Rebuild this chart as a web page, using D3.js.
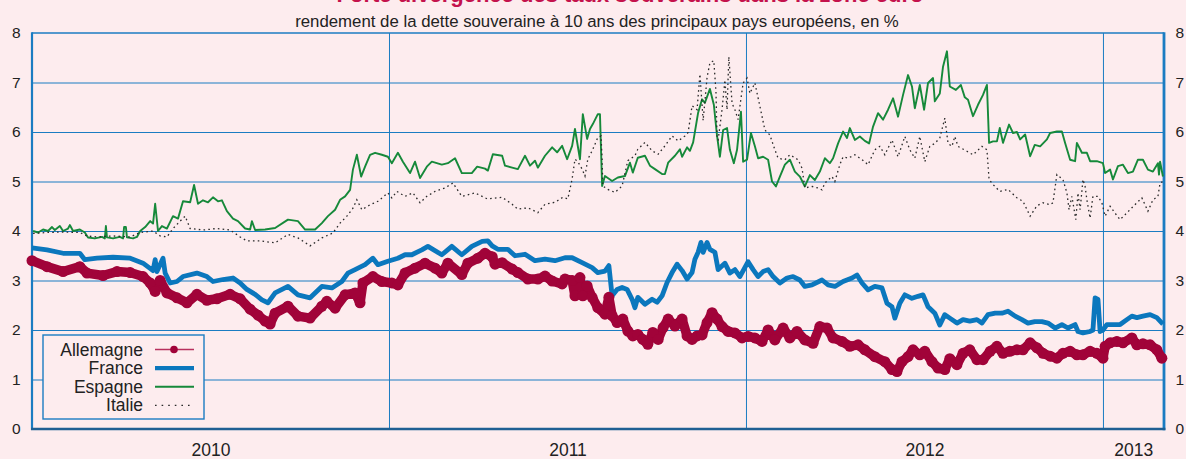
<!DOCTYPE html>
<html>
<head>
<meta charset="utf-8">
<script src="https://cdn.jsdelivr.net/npm/d3@7"></script>
<style>
html, body { margin: 0; padding: 0; background: #fdecee; }
svg { display: block; font-family: "Liberation Sans", Arial, sans-serif; }
</style>
</head>
<body>
<div id="chart"></div>
<script>
// rendements à 10 ans, en % -- [année décimale, valeur]
const allemagne = [
  [2010.000,3.40],[2010.042,3.28],[2010.087,3.18],[2010.134,3.28],[2010.154,3.15],[2010.199,3.10],[2010.238,3.18],[2010.275,3.16],[2010.311,3.08],[2010.331,2.95],[2010.345,2.78],[2010.359,3.00],[2010.378,2.75],[2010.406,2.65],[2010.434,2.55],[2010.462,2.72],[2010.490,2.60],[2010.518,2.63],[2010.555,2.72],[2010.583,2.63],[2010.611,2.42],[2010.633,2.30],[2010.653,2.18],[2010.667,2.12],[2010.681,2.34],[2010.717,2.48],[2010.745,2.28],[2010.779,2.24],[2010.812,2.48],[2010.826,2.58],[2010.849,2.44],[2010.877,2.71],[2010.905,2.75],[2010.919,2.55],[2010.927,2.95],[2010.955,3.08],[2010.980,2.98],
  [2011.008,2.95],[2011.025,2.91],[2011.045,3.15],[2011.073,3.25],[2011.101,3.35],[2011.129,3.25],[2011.148,3.15],[2011.165,3.35],[2011.204,3.12],[2011.221,3.35],[2011.249,3.45],[2011.269,3.55],[2011.289,3.48],[2011.297,3.33],[2011.317,3.36],[2011.345,3.23],[2011.361,3.16],[2011.389,3.03],[2011.417,3.03],[2011.437,3.09],[2011.457,2.99],[2011.485,2.93],[2011.493,3.03],[2011.513,3.00],[2011.521,2.69],[2011.535,3.06],[2011.543,2.69],[2011.555,2.89],[2011.569,2.66],[2011.585,2.45],[2011.605,2.32],[2011.616,2.66],[2011.625,2.29],[2011.639,2.15],[2011.655,2.22],[2011.669,1.98],[2011.683,1.88],[2011.697,1.91],[2011.711,1.81],[2011.725,1.71],[2011.739,1.95],[2011.754,1.81],[2011.768,2.05],[2011.782,2.22],[2011.801,2.08],[2011.821,2.22],[2011.835,1.88],[2011.849,1.81],[2011.863,1.88],[2011.877,1.90],[2011.891,2.15],[2011.905,2.35],[2011.919,2.22],[2011.933,2.07],[2011.950,1.97],[2011.969,1.94],[2011.989,1.84],
  [2012.006,1.87],[2012.025,1.84],[2012.045,1.77],[2012.062,2.00],[2012.081,1.80],[2012.104,2.04],[2012.123,1.84],[2012.143,1.97],[2012.165,1.80],[2012.188,1.73],[2012.207,2.07],[2012.227,2.04],[2012.244,1.84],[2012.269,1.77],[2012.291,1.67],[2012.314,1.70],[2012.333,1.60],[2012.361,1.46],[2012.389,1.36],[2012.409,1.20],[2012.423,1.16],[2012.437,1.36],[2012.454,1.46],[2012.468,1.60],[2012.487,1.50],[2012.501,1.57],[2012.521,1.36],[2012.538,1.23],[2012.557,1.20],[2012.571,1.42],[2012.591,1.30],[2012.608,1.53],[2012.627,1.60],[2012.647,1.40],[2012.664,1.40],[2012.684,1.57],[2012.703,1.67],[2012.720,1.53],[2012.739,1.57],[2012.759,1.60],[2012.776,1.60],[2012.796,1.74],[2012.815,1.64],[2012.832,1.53],[2012.852,1.47],[2012.871,1.43],[2012.888,1.53],[2012.908,1.57],[2012.927,1.50],[2012.944,1.50],[2012.964,1.57],[2012.983,1.53],
  [2013.000,1.43],[2013.006,1.67],[2013.020,1.74],[2013.039,1.77],[2013.056,1.74],[2013.081,1.84],[2013.095,1.70],[2013.112,1.72],[2013.132,1.70],[2013.151,1.60],[2013.165,1.43]
];

const france = [
  [2010.000,3.66],[2010.042,3.62],[2010.087,3.55],[2010.134,3.55],[2010.148,3.42],[2010.182,3.45],[2010.227,3.47],[2010.275,3.45],[2010.311,3.35],[2010.339,3.20],[2010.345,3.42],[2010.350,3.18],[2010.367,3.45],[2010.373,3.15],[2010.387,2.95],[2010.406,2.98],[2010.423,3.08],[2010.462,3.15],[2010.490,3.08],[2010.507,2.98],[2010.535,3.02],[2010.563,3.05],[2010.583,2.95],[2010.602,2.82],[2010.625,2.72],[2010.644,2.61],[2010.661,2.55],[2010.681,2.75],[2010.717,2.88],[2010.745,2.71],[2010.779,2.65],[2010.812,2.88],[2010.840,2.85],[2010.868,2.98],[2010.885,3.15],[2010.905,3.22],[2010.933,3.32],[2010.955,3.45],[2010.969,3.32],[2010.997,3.39],
  [2011.025,3.45],[2011.045,3.52],[2011.064,3.52],[2011.092,3.62],[2011.109,3.69],[2011.148,3.52],[2011.176,3.69],[2011.204,3.52],[2011.232,3.69],[2011.261,3.79],[2011.277,3.80],[2011.289,3.70],[2011.305,3.63],[2011.333,3.63],[2011.353,3.50],[2011.381,3.53],[2011.409,3.40],[2011.437,3.43],[2011.465,3.40],[2011.493,3.46],[2011.513,3.46],[2011.541,3.36],[2011.569,3.26],[2011.585,3.16],[2011.605,3.19],[2011.616,3.30],[2011.625,2.69],[2011.639,2.82],[2011.653,2.86],[2011.667,2.82],[2011.681,2.62],[2011.689,2.45],[2011.697,2.66],[2011.717,2.52],[2011.737,2.62],[2011.751,2.56],[2011.765,2.69],[2011.779,2.96],[2011.793,3.16],[2011.807,3.33],[2011.821,3.20],[2011.835,3.03],[2011.849,3.16],[2011.857,3.43],[2011.866,3.57],[2011.874,3.77],[2011.880,3.57],[2011.891,3.77],[2011.899,3.63],[2011.913,3.57],[2011.922,3.22],[2011.941,3.35],[2011.955,3.15],[2011.969,3.22],[2011.983,3.08],
  [2012.006,3.38],[2012.020,3.22],[2012.034,3.08],[2012.048,3.18],[2012.062,3.22],[2012.076,3.08],[2012.095,2.95],[2012.115,3.05],[2012.132,3.08],[2012.151,3.01],[2012.165,2.88],[2012.185,2.91],[2012.213,3.01],[2012.230,2.91],[2012.249,2.88],[2012.272,2.98],[2012.297,3.05],[2012.311,3.11],[2012.325,2.95],[2012.342,2.81],[2012.361,2.88],[2012.381,2.85],[2012.395,2.54],[2012.409,2.47],[2012.417,2.24],[2012.431,2.54],[2012.445,2.71],[2012.465,2.64],[2012.482,2.68],[2012.496,2.71],[2012.510,2.47],[2012.529,2.34],[2012.543,2.10],[2012.557,2.31],[2012.571,2.24],[2012.591,2.14],[2012.608,2.21],[2012.627,2.18],[2012.647,2.21],[2012.661,2.14],[2012.678,2.31],[2012.698,2.34],[2012.717,2.34],[2012.734,2.38],[2012.754,2.28],[2012.773,2.21],[2012.790,2.14],[2012.809,2.17],[2012.829,2.17],[2012.846,2.14],[2012.866,2.04],[2012.885,2.11],[2012.902,2.04],[2012.922,2.11],[2012.930,1.97],[2012.944,1.94],[2012.964,1.97],[2012.972,2.00],[2012.978,2.65],[2012.986,2.62],[2012.992,1.97],
  [2013.000,2.00],[2013.011,2.11],[2013.028,2.11],[2013.048,2.11],[2013.067,2.21],[2013.081,2.28],[2013.095,2.25],[2013.112,2.28],[2013.132,2.31],[2013.151,2.25],[2013.168,2.12]
];

const espagne = [
  [2010.003,4.00],[2010.017,3.97],[2010.031,4.03],[2010.045,4.00],[2010.056,4.08],[2010.064,4.02],[2010.078,4.10],[2010.087,4.00],[2010.101,4.05],[2010.106,4.12],[2010.115,4.00],[2010.134,4.03],[2010.148,3.97],[2010.157,3.87],[2010.176,3.85],[2010.196,3.88],[2010.204,3.85],[2010.207,4.10],[2010.210,3.87],[2010.227,3.85],[2010.246,3.88],[2010.255,3.85],[2010.258,4.08],[2010.263,4.08],[2010.266,3.87],[2010.283,3.85],[2010.294,3.88],[2010.303,4.00],[2010.317,4.08],[2010.331,4.20],[2010.339,4.15],[2010.345,4.55],[2010.353,4.00],[2010.364,4.10],[2010.378,4.05],[2010.395,4.30],[2010.409,4.25],[2010.423,4.60],[2010.443,4.58],[2010.454,4.93],[2010.465,4.55],[2010.479,4.62],[2010.493,4.58],[2010.507,4.68],[2010.521,4.60],[2010.532,4.62],[2010.546,4.40],[2010.563,4.25],[2010.577,4.20],[2010.597,4.05],[2010.611,4.03],[2010.616,4.20],[2010.625,4.02],[2010.653,4.03],[2010.681,4.06],[2010.717,4.23],[2010.745,4.20],[2010.765,4.03],[2010.793,4.03],[2010.812,4.16],[2010.829,4.30],[2010.849,4.43],[2010.863,4.63],[2010.877,4.70],[2010.891,4.83],[2010.899,5.24],[2010.910,5.54],[2010.922,5.10],[2010.933,5.30],[2010.947,5.54],[2010.961,5.58],[2010.980,5.54],[2010.997,5.50],
  [2011.008,5.37],[2011.025,5.58],[2011.039,5.40],[2011.059,5.17],[2011.073,5.40],[2011.087,5.07],[2011.106,5.30],[2011.120,5.40],[2011.148,5.34],[2011.165,5.37],[2011.185,5.47],[2011.204,5.17],[2011.232,5.17],[2011.247,5.30],[2011.269,5.26],[2011.277,5.22],[2011.291,5.55],[2011.317,5.52],[2011.325,5.32],[2011.345,5.28],[2011.361,5.25],[2011.381,5.52],[2011.395,5.32],[2011.409,5.42],[2011.417,5.28],[2011.437,5.52],[2011.457,5.69],[2011.471,5.59],[2011.485,5.72],[2011.499,5.45],[2011.513,5.72],[2011.521,6.06],[2011.535,5.45],[2011.543,6.36],[2011.555,5.86],[2011.563,6.06],[2011.571,6.16],[2011.585,6.36],[2011.591,6.36],[2011.597,4.91],[2011.605,5.11],[2011.625,5.01],[2011.641,5.08],[2011.661,5.11],[2011.675,5.38],[2011.683,5.18],[2011.697,5.48],[2011.717,5.52],[2011.731,5.32],[2011.745,5.25],[2011.765,5.15],[2011.773,5.15],[2011.782,5.38],[2011.801,5.52],[2011.815,5.65],[2011.821,5.50],[2011.835,5.69],[2011.843,5.62],[2011.852,5.79],[2011.866,6.39],[2011.877,6.66],[2011.885,6.59],[2011.899,6.87],[2011.910,6.55],[2011.919,5.92],[2011.927,5.50],[2011.936,6.04],[2011.947,6.08],[2011.955,5.64],[2011.966,5.37],[2011.975,5.64],[2011.986,6.41],[2011.992,5.40],
  [2012.003,5.44],[2012.014,5.98],[2012.025,5.71],[2012.034,5.47],[2012.048,5.50],[2012.062,5.44],[2012.073,5.00],[2012.084,4.90],[2012.095,5.10],[2012.109,5.34],[2012.123,5.44],[2012.137,5.20],[2012.151,5.10],[2012.165,4.90],[2012.179,5.13],[2012.193,5.03],[2012.207,5.20],[2012.221,5.47],[2012.235,5.37],[2012.244,5.47],[2012.258,5.77],[2012.272,6.01],[2012.283,5.88],[2012.291,6.08],[2012.305,5.84],[2012.319,5.91],[2012.333,5.82],[2012.345,5.77],[2012.356,6.11],[2012.370,6.38],[2012.384,6.25],[2012.398,6.45],[2012.412,6.68],[2012.426,6.31],[2012.440,6.75],[2012.454,7.15],[2012.465,6.92],[2012.473,6.48],[2012.487,6.95],[2012.499,6.45],[2012.510,6.99],[2012.524,7.09],[2012.529,6.62],[2012.543,6.78],[2012.552,7.32],[2012.563,7.63],[2012.571,6.92],[2012.588,6.85],[2012.602,6.95],[2012.613,6.70],[2012.622,6.65],[2012.636,6.32],[2012.650,6.55],[2012.664,6.75],[2012.675,6.95],[2012.681,5.78],[2012.692,5.81],[2012.703,5.81],[2012.711,6.08],[2012.720,5.78],[2012.737,6.15],[2012.748,5.98],[2012.759,6.00],[2012.768,5.85],[2012.782,5.95],[2012.796,5.51],[2012.809,5.74],[2012.824,5.71],[2012.843,5.85],[2012.852,5.98],[2012.871,6.01],[2012.885,6.01],[2012.894,5.78],[2012.908,5.44],[2012.922,5.41],[2012.927,5.78],[2012.941,5.58],[2012.955,5.58],[2012.964,5.41],[2012.983,5.41],
  [2013.000,5.37],[2013.006,5.17],[2013.020,5.24],[2013.028,5.04],[2013.042,5.31],[2013.056,5.34],[2013.070,5.17],[2013.084,5.20],[2013.098,5.44],[2013.112,5.44],[2013.126,5.24],[2013.140,5.20],[2013.154,5.37],[2013.157,5.14],[2013.160,5.40],[2013.168,5.10]
];

const italie = [
  [2010.003,3.95],[2010.042,3.97],[2010.087,3.98],[2010.134,3.97],[2010.154,3.90],[2010.182,3.88],[2010.227,3.90],[2010.275,3.88],[2010.303,3.97],[2010.339,4.00],[2010.359,3.90],[2010.378,3.88],[2010.395,4.05],[2010.415,4.20],[2010.429,4.30],[2010.443,4.05],[2010.479,4.02],[2010.518,4.05],[2010.555,4.02],[2010.583,3.88],[2010.602,3.80],[2010.639,3.80],[2010.681,3.76],[2010.717,3.93],[2010.745,3.86],[2010.779,3.70],[2010.812,3.86],[2010.843,3.96],[2010.863,4.16],[2010.882,4.30],[2010.899,4.46],[2010.910,4.63],[2010.924,4.43],[2010.947,4.53],[2010.969,4.60],[2010.997,4.77],
  [2011.008,4.67],[2011.022,4.80],[2011.045,4.70],[2011.067,4.77],[2011.087,4.57],[2011.106,4.70],[2011.129,4.80],[2011.157,4.87],[2011.179,4.97],[2011.204,4.70],[2011.241,4.77],[2011.275,4.65],[2011.317,4.68],[2011.345,4.54],[2011.361,4.44],[2011.389,4.47],[2011.417,4.37],[2011.437,4.54],[2011.465,4.58],[2011.487,4.68],[2011.501,4.65],[2011.513,5.05],[2011.521,5.45],[2011.529,5.40],[2011.541,5.25],[2011.549,5.11],[2011.557,5.45],[2011.571,5.65],[2011.585,5.89],[2011.594,5.92],[2011.597,5.45],[2011.599,4.91],[2011.613,4.84],[2011.633,4.78],[2011.653,4.91],[2011.669,5.42],[2011.689,5.52],[2011.697,5.65],[2011.717,5.79],[2011.737,5.62],[2011.754,5.55],[2011.773,5.72],[2011.793,5.92],[2011.810,5.82],[2011.829,5.92],[2011.838,5.99],[2011.849,6.53],[2011.863,6.45],[2011.871,7.17],[2011.880,6.23],[2011.891,7.10],[2011.899,7.40],[2011.910,7.44],[2011.916,6.80],[2011.919,5.86],[2011.922,5.84],[2011.933,6.45],[2011.941,7.05],[2011.947,6.45],[2011.952,7.52],[2011.961,6.58],[2011.969,6.45],[2011.978,6.25],[2011.992,6.99],
  [2012.003,7.09],[2012.011,6.78],[2012.025,6.99],[2012.039,6.52],[2012.053,6.04],[2012.067,5.94],[2012.081,5.64],[2012.090,5.47],[2012.109,5.44],[2012.123,5.54],[2012.146,5.44],[2012.157,5.27],[2012.165,4.87],[2012.185,4.90],[2012.202,4.87],[2012.213,4.83],[2012.221,4.97],[2012.241,5.10],[2012.249,5.00],[2012.263,5.34],[2012.272,5.50],[2012.286,5.47],[2012.305,5.54],[2012.325,5.44],[2012.342,5.34],[2012.361,5.64],[2012.375,5.71],[2012.389,5.54],[2012.409,5.84],[2012.426,5.50],[2012.445,5.91],[2012.459,5.64],[2012.473,5.47],[2012.487,5.91],[2012.501,5.40],[2012.515,5.71],[2012.529,5.77],[2012.543,5.88],[2012.557,6.28],[2012.566,5.77],[2012.577,5.71],[2012.585,5.91],[2012.594,5.71],[2012.619,5.61],[2012.636,5.54],[2012.661,5.71],[2012.675,5.64],[2012.681,5.04],[2012.692,4.94],[2012.711,4.80],[2012.734,4.84],[2012.759,4.67],[2012.776,4.60],[2012.796,4.30],[2012.815,4.51],[2012.832,4.57],[2012.852,4.53],[2012.860,4.57],[2012.871,5.14],[2012.888,5.04],[2012.899,4.77],[2012.905,4.43],[2012.913,4.70],[2012.924,4.23],[2012.930,4.77],[2012.936,4.43],[2012.944,5.04],[2012.950,4.90],[2012.955,4.63],[2012.964,4.26],[2012.972,4.70],[2012.986,4.70],[2012.997,4.57],
  [2013.006,4.30],[2013.020,4.50],[2013.034,4.36],[2013.048,4.23],[2013.062,4.33],[2013.081,4.47],[2013.095,4.57],[2013.109,4.67],[2013.126,4.40],[2013.140,4.63],[2013.154,4.70],[2013.160,4.97],[2013.168,5.00]
];

const yTicks = [0, 1, 2, 3, 4, 5, 6, 7, 8];
const yearLines = [2011, 2012, 2013];
const yearLabels = [[2010.5, "2010"], [2011.5, "2011"], [2012.5, "2012"], [2013.085, "2013"]];
const legendItems = ["Allemagne", "France", "Espagne", "Italie"];

const title = "Forte divergence des taux souverains dans la zone euro";
const subtitle = "rendement de la dette souveraine à 10 ans des principaux pays européens, en %";

const width = 1186;
const height = 459;
const plotLeft = 32, plotRight = 1164, plotTop = 33, plotBottom = 429;

const blue = "#1b7cc2";
const colors = { Allemagne: "#a10339", France: "#0b77bd", Espagne: "#16893a", Italie: "#2a2a2a" };

const svg = d3.select("#chart").append("svg")
    .attr("width", width)
    .attr("height", height);

const x = d3.scaleLinear().domain([2010, 2013.171]).range([plotLeft, plotRight]);
const y = d3.scaleLinear().domain([0, 8]).range([plotBottom, plotTop]);

// titre (coupé en haut de l'image, comme dans l'original)
svg.append("text")
    .attr("x", 630)
    .attr("y", 1.5)
    .attr("text-anchor", "middle")
    .style("font-size", "22px")
    .style("font-weight", "bold")
    .style("fill", "#c4124c")
    .text(title);

svg.append("text")
    .attr("x", 597)
    .attr("y", 26.5)
    .attr("text-anchor", "middle")
    .style("font-size", "16.8px")
    .style("fill", "#222")
    .text(subtitle);

// grille horizontale
const gridY = svg.append("g")
    .attr("transform", `translate(${plotLeft},0)`)
    .call(d3.axisLeft(y).tickValues(yTicks.slice(1, -1)).tickSize(-(plotRight - plotLeft)).tickFormat(""));
gridY.select(".domain").remove();
gridY.selectAll("line").attr("stroke", blue).attr("stroke-width", 1);

// lignes des années
const gridX = svg.append("g")
    .attr("transform", `translate(0,${plotBottom})`)
    .call(d3.axisBottom(x).tickValues(yearLines).tickSize(-(plotBottom - plotTop)).tickFormat(""));
gridX.select(".domain").remove();
gridX.selectAll("line").attr("stroke", blue).attr("stroke-width", 1);

// axes y gauche / droite
const axisL = svg.append("g")
    .attr("transform", `translate(${plotLeft},0)`)
    .call(d3.axisLeft(y).tickValues(yTicks).tickSize(0).tickPadding(11.5).tickFormat(d3.format("d")));
const axisR = svg.append("g")
    .attr("transform", `translate(${plotRight},0)`)
    .call(d3.axisRight(y).tickValues(yTicks).tickSize(0).tickPadding(11.5).tickFormat(d3.format("d")));
[axisL, axisR].forEach(a => {
    a.select(".domain").remove();
    a.selectAll("text").style("font-size", "15.5px").style("fill", "#222").attr("font-family", null);
});

// années
const axisB = svg.append("g")
    .attr("transform", `translate(0,${plotBottom})`)
    .call(d3.axisBottom(x).tickValues(yearLabels.map(d => d[0])).tickSize(0).tickPadding(15)
        .tickFormat((d, i) => yearLabels[i][1]));
axisB.select(".domain").remove();
axisB.selectAll("text").style("font-size", "17.5px").style("fill", "#222").attr("font-family", null);

// cadre
svg.append("line").attr("x1", plotLeft).attr("x2", plotRight).attr("y1", plotTop).attr("y2", plotTop)
    .attr("stroke", blue).attr("stroke-width", 1.6);
svg.append("line").attr("x1", plotLeft).attr("x2", plotLeft).attr("y1", plotTop - 0.8).attr("y2", plotBottom + 1)
    .attr("stroke", blue).attr("stroke-width", 2.2);
svg.append("line").attr("x1", plotRight).attr("x2", plotRight).attr("y1", plotTop - 0.8).attr("y2", plotBottom + 1.3)
    .attr("stroke", blue).attr("stroke-width", 2.8);
svg.append("line").attr("x1", plotLeft - 1).attr("x2", plotRight + 1.4).attr("y1", plotBottom).attr("y2", plotBottom)
    .attr("stroke", "#1f5f93").attr("stroke-width", 2.4);

// séries
const line = d3.line()
    .x(d => x(d[0]))
    .y(d => y(d[1]));

const plot = svg.append("g");

plot.append("path")
    .datum(espagne)
    .attr("fill", "none")
    .attr("stroke", colors.Espagne)
    .attr("stroke-width", 1.9)
    .attr("stroke-linejoin", "round")
    .attr("d", line);

plot.append("path")
    .datum(italie)
    .attr("fill", "none")
    .attr("stroke", colors.Italie)
    .attr("stroke-width", 1.3)
    .attr("stroke-dasharray", "1.6,3.2")
    .attr("d", line);

plot.append("path")
    .datum(france)
    .attr("fill", "none")
    .attr("stroke", colors.France)
    .attr("stroke-width", 4.8)
    .attr("stroke-linejoin", "round")
    .attr("d", line);

plot.append("path")
    .datum(allemagne)
    .attr("fill", "none")
    .attr("stroke", colors.Allemagne)
    .attr("stroke-width", 9.5)
    .attr("stroke-linejoin", "round")
    .attr("stroke-linecap", "round")
    .attr("d", line);

plot.selectAll(".dot")
    .data(allemagne)
    .join("circle")
    .attr("class", "dot")
    .attr("cx", d => x(d[0]))
    .attr("cy", d => y(d[1]))
    .attr("r", 5.5)
    .attr("fill", colors.Allemagne);

// légende
const legend = svg.append("g").attr("transform", "translate(43,335)");
legend.append("rect")
    .attr("width", 161)
    .attr("height", 84)
    .attr("fill", "#fdecee")
    .attr("stroke", blue)
    .attr("stroke-width", 1.4);

const rows = legend.selectAll(".row")
    .data(legendItems)
    .join("g")
    .attr("class", "row")
    .attr("transform", (d, i) => `translate(0,${14.5 + i * 18.6})`);

rows.append("text")
    .attr("x", 100)
    .attr("y", 6)
    .attr("text-anchor", "end")
    .style("font-size", "17.5px")
    .style("fill", "#222")
    .text(d => d);

rows.append("line")
    .attr("x1", 112)
    .attr("x2", 151)
    .attr("stroke", d => d === "Allemagne" ? "#b8305e" : colors[d])
    .attr("stroke-width", d => d === "France" ? 4.4 : d === "Espagne" ? 1.9 : d === "Italie" ? 1.3 : 1.6)
    .attr("stroke-dasharray", d => d === "Italie" ? "1.6,5" : null);

rows.filter(d => d === "Allemagne").append("circle")
    .attr("cx", 131)
    .attr("r", 3.8)
    .attr("fill", colors.Allemagne);
</script>
</body>
</html>
